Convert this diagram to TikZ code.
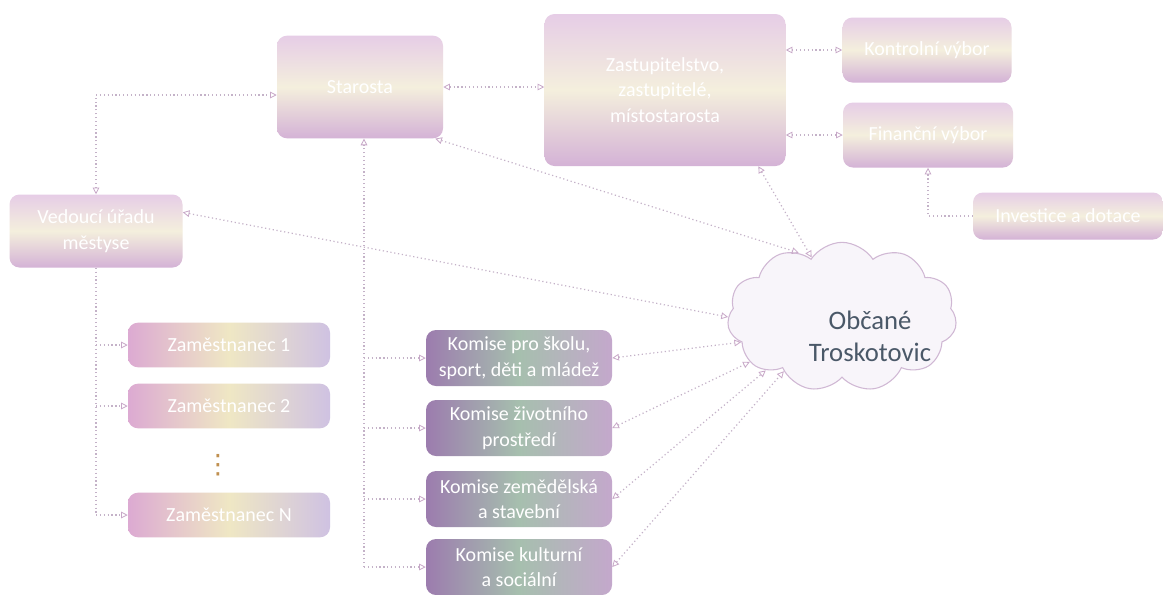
\documentclass[tikz,border=0pt]{standalone}
\usepackage{fontspec}
\setmainfont{Carlito}
\newfontfamily\dejavu{DejaVu Sans}
\usetikzlibrary{arrows.meta,shapes.symbols,positioning}
\definecolor{lnk}{HTML}{C4B2C8}
\definecolor{tip}{HTML}{C8A8C8}
\definecolor{citz}{HTML}{4A5868}
\definecolor{paleT}{HTML}{E6CDE6}
\definecolor{paleB}{HTML}{D4B2D6}
\definecolor{paleM}{HTML}{F4EFDD}
\definecolor{zamL}{HTML}{DCAAD2}
\definecolor{zamR}{HTML}{CFC2E2}
\definecolor{zamM}{HTML}{EFE7C4}
\definecolor{komL}{HTML}{9C7CAE}
\definecolor{komR}{HTML}{C4A8CC}
\definecolor{komM}{HTML}{A6BFAE}
\definecolor{cloudD}{HTML}{D0B8D4}
\definecolor{cloudF}{HTML}{F8F5FA}
\definecolor{dotc}{HTML}{C09050}
\begin{document}
\begin{tikzpicture}[x=0.75pt,y=-0.75pt,
  boxbase/.style={rounded corners=7.5pt, inner sep=0pt, align=center, text=white,
    font=\fontsize{15}{19}\selectfont},
  pale/.style={boxbase, top color=paleT, bottom color=paleB, middle color=paleM},
  zam/.style={boxbase, left color=zamL, right color=zamR, middle color=zamM,
    minimum width=151.5pt, minimum height=33.5pt},
  kom/.style={boxbase, left color=komL, right color=komR, middle color=komM,
    minimum width=139.5pt, minimum height=42pt},
  link/.style={draw=lnk, line width=0.9pt, dotted},
  tipd/.style={-{Triangle[open,length=5pt,width=5pt,line width=0.6pt,color=tip]}},
  tipb/.style={{Triangle[open,length=5pt,width=5pt,line width=0.6pt,color=tip]}-{Triangle[open,length=5pt,width=5pt,line width=0.6pt,color=tip]}}
]
\useasboundingbox (0,0) rectangle (1163,594);
\fill[white] (0,0) rectangle (1163,594);

% top row
\node[pale, minimum width=124.5pt, minimum height=77pt] (star) at (360,87) {Starosta};
\node[pale, minimum width=180.75pt, minimum height=114pt] (zast) at (665,90)
  {Zastupitelstvo,\\zastupitelé,\\místostarosta};
\node[pale, minimum width=126.75pt, minimum height=48.75pt] (kv) at (927,50) {Kontrolní výbor};
\node[pale, minimum width=127.5pt, minimum height=48.75pt] (fv) at (928,135) {Finanční výbor};
\node[pale, minimum width=142.5pt, minimum height=35.25pt] (inv) at (1068,216) {Investice a dotace};

% left column
\node[pale, minimum width=129.75pt, minimum height=54.75pt] (ved) at (96,231) {Vedoucí úřadu\\městyse};
\node[zam] (z1) at (229,345) {Zaměstnanec 1};
\node[zam] (z2) at (229,406) {Zaměstnanec 2};
\node[text=dotc, font=\dejavu\fontsize{20}{20}\selectfont, inner sep=0pt] (dots) at (218,465) {⋮};
\node[zam] (zn) at (229,515) {Zaměstnanec N};

% commissions
\node[kom] (k1) at (519,358) {Komise pro školu,\\sport, děti a mládež};
\node[kom] (k2) at (519,428) {Komise  životního\\prostředí};
\node[kom] (k3) at (519,499) {Komise zemědělská\\a stavební};
\node[kom] (k4) at (519,567) {Komise kulturní\\a sociální};

% cloud
\node[cloud, cloud puffs=11, cloud puff arc=115, aspect=1.5, draw=cloudD, line width=0.8pt,
  fill=cloudF, minimum width=172pt, minimum height=112pt, inner sep=0pt] (cit) at (842,317) {};
\node[text=citz, align=center, font=\fontsize{20}{24}\selectfont] (citt) at (870,336)
  {Občané\\Troskotovic};

% connectors
\draw[link,tipb] (ved.north) |- ([yshift=-6]star.west);
\draw[link,tipb] (star.east) -- (star.east -| zast.west);
\draw[link,tipb] (zast.east |- kv.west) -- (kv.west);
\draw[link,tipb] (zast.east |- fv.west) -- (fv.west);
\draw[link,tipd] (inv.west) -| (fv.south);

\draw[link] (ved.south) -- (ved.south |- zn.west);
\draw[link,tipd] (ved.south |- z1.west) -- (z1.west);
\draw[link,tipd] (ved.south |- z2.west) -- (z2.west);
\draw[link,tipd] (ved.south |- zn.west) -- (zn.west);

\draw[link,tipd] ([xshift=3]star.south |- k4.west) -- ([xshift=3]star.south);
\draw[link,tipd] ([xshift=3]star.south |- k1.west) -- (k1.west);
\draw[link,tipd] ([xshift=3]star.south |- k2.west) -- (k2.west);
\draw[link,tipd] ([xshift=3]star.south |- k3.west) -- (k3.west);
\draw[link,tipd] ([xshift=3]star.south |- k4.west) -- (k4.west);

\draw[link,tipb] ([yshift=14]ved.east) -- (cit.180);
\draw[link,tipb] ([xshift=-6]star.south east) -- (cit.124);
\draw[link,tipb] ([xshift=70]zast.south) -- (cit.117);
\draw[link,tipb] (k1.east) -- (cit.194);
\draw[link,tipb] (k2.east) -- (cit.206);
\draw[link,tipb] (k3.east) -- (cit.215);
\draw[link,tipb] (k4.east) -- (cit.223);
\end{tikzpicture}
\end{document}
